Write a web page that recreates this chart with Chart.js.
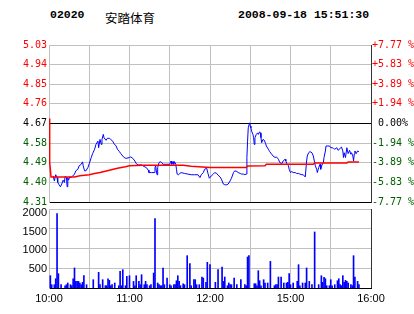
<!DOCTYPE html>
<html>
<head>
<meta charset="utf-8">
<script src="https://cdn.jsdelivr.net/npm/chart.js@4.4.0/dist/chart.umd.min.js"></script>
<style>
  body { margin: 0; background: #fff; width: 414px; height: 314px; overflow: hidden; position: relative; }
  .hd { position: absolute; top: 8px; line-height: 16px; color: #000; font: bold 11.5px "Liberation Mono", monospace; }
  .name { font: 12.5px "Noto Sans CJK SC", sans-serif; }
  canvas { position: absolute; left: 0; }
</style>
</head>
<body>
<div class="hd" style="left:50px">02020</div>
<div class="hd name" style="left:105px">安踏体育</div>
<div class="hd" style="left:238px">2008-09-18 15:51:30</div>
<canvas id="price-chart" width="414" height="210" style="top:0;width:414px;height:210px"></canvas>
<canvas id="vol-chart" width="414" height="114" style="top:200px;width:414px;height:114px"></canvas>
<script>
// minutes since 10:00 (10:00-12:30, 14:30-16:00 = 240 trading minutes)
const timeTicks = [0, 30, 60, 90, 120, 150, 180, 210, 240];
const timeLabels = ['10:00', '', '11:00', '', '12:00', '', '15:00', '', '16:00'];

const prevClose = 4.67;
const priceTicks = [4.31, 4.40, 4.49, 4.58, 4.67, 4.76, 4.85, 4.94, 5.03];
const pctLabels = ['-7.77 %', '-5.83 %', '-3.89 %', '-1.94 %', ' 0.00%', '+1.94 %', '+3.89 %', '+5.83 %', '+7.77 %'];

const volTicks = [500, 1000, 1500, 2000];
const volMax = 2100;

// price line
const priceMin = [3, 4, 5, 6, 6.5, 7.5, 8.5, 9.5, 10.5, 11.5, 12, 13, 13.5, 14, 14.5, 15.5, 16.5, 17.5, 19, 20,
  21.5, 22.5, 24, 25, 25.5, 26.5, 27.5, 29, 30, 31.5, 32.5, 34, 35, 36.5, 37, 38, 39, 39.5, 40.5, 41,
  42.5, 43.5, 45, 46, 47.5, 48.5, 50, 51, 52.5, 53.5, 55, 56, 57.5, 60, 61, 62.5, 64, 65, 66.5, 69,
  70, 71.5, 72.5, 74, 74.5, 76.5, 78.5, 79, 79.5, 80, 80.5, 81, 82, 83, 84, 85, 87.5, 90, 90.5, 91,
  91.5, 92.5, 93, 93.5, 94.5, 95, 95.5, 96.5, 97.5, 98.5, 101, 103.5, 106, 108.5, 111, 112.5, 113.5, 115, 116, 117.5,
  118.5, 119.5, 121, 122.5, 123.5, 125, 126, 127.5, 128.5, 130, 131, 132.5, 133.5, 135, 136, 137.5, 138.5, 140, 141, 142.5,
  143.5, 145, 146, 147, 147.5, 148, 148.5, 149.5, 150, 150.5, 151, 152, 152.5, 153, 153.5, 154.5, 155.5, 156, 157, 157.5,
  158, 158.5, 159.5, 160.5, 161.5, 162, 163.5, 164.5, 166, 167, 168.5, 169.5, 171, 172, 173.5, 174.5, 176, 176.5, 177.5, 178.5,
  179, 180, 181, 182, 183.5, 184.5, 186, 187, 188.5, 189.5, 191, 191.5, 192, 192.5, 193.5, 194.5, 196, 197, 198, 198.5,
  199.5, 200, 201, 202, 202.5, 203.5, 204.5, 205, 206, 206.5, 207.5, 209, 210, 211, 212, 213, 214.5, 215.5, 217, 218,
  219, 219.5, 220, 221, 222, 222.5, 223, 224, 225, 225.5, 226.5, 227, 227.5, 228, 229, 230, 231];
const priceVal = [4.430, 4.407, 4.435, 4.422, 4.400, 4.389, 4.380, 4.392, 4.410, 4.400, 4.428, 4.422, 4.380, 4.422, 4.410, 4.425, 4.422, 4.428, 4.438, 4.453,
  4.460, 4.476, 4.483, 4.494, 4.476, 4.453, 4.453, 4.468, 4.486, 4.514, 4.532, 4.552, 4.574, 4.589, 4.559, 4.597, 4.574, 4.597, 4.620, 4.605,
  4.593, 4.602, 4.602, 4.597, 4.589, 4.577, 4.567, 4.552, 4.541, 4.532, 4.521, 4.514, 4.510, 4.514, 4.517, 4.510, 4.498, 4.486, 4.480, 4.480,
  4.476, 4.471, 4.468, 4.456, 4.445, 4.445, 4.445, 4.468, 4.476, 4.453, 4.435, 4.468, 4.491, 4.495, 4.491, 4.483, 4.483, 4.483, 4.491, 4.498,
  4.483, 4.495, 4.483, 4.495, 4.483, 4.460, 4.438, 4.435, 4.441, 4.445, 4.441, 4.438, 4.435, 4.435, 4.435, 4.422, 4.435, 4.445, 4.460, 4.465,
  4.441, 4.419, 4.430, 4.438, 4.445, 4.441, 4.433, 4.425, 4.415, 4.392, 4.389, 4.389, 4.392, 4.407, 4.419, 4.445, 4.453, 4.450, 4.445, 4.441,
  4.438, 4.438, 4.435, 4.438, 4.514, 4.589, 4.650, 4.673, 4.658, 4.650, 4.635, 4.620, 4.605, 4.574, 4.605, 4.620, 4.627, 4.620, 4.632, 4.627,
  4.605, 4.582, 4.597, 4.593, 4.577, 4.567, 4.552, 4.541, 4.529, 4.521, 4.514, 4.517, 4.506, 4.491, 4.486, 4.498, 4.506, 4.498, 4.483, 4.476,
  4.460, 4.445, 4.450, 4.445, 4.445, 4.441, 4.441, 4.438, 4.435, 4.435, 4.425, 4.425, 4.498, 4.521, 4.536, 4.541, 4.536, 4.521, 4.491, 4.476,
  4.460, 4.445, 4.468, 4.483, 4.460, 4.480, 4.491, 4.514, 4.544, 4.567, 4.567, 4.567, 4.559, 4.559, 4.556, 4.552, 4.559, 4.547, 4.556, 4.562,
  4.544, 4.514, 4.536, 4.514, 4.559, 4.544, 4.532, 4.547, 4.529, 4.536, 4.521, 4.498, 4.529, 4.544, 4.532, 4.544, 4.541];

// average price line
const avgMin = [0, 0.5, 1.5, 19, 23, 30, 34, 38, 45, 51, 57, 60, 70, 100, 106, 120, 147, 148, 161, 162, 197, 198, 222, 223, 231];
const avgVal = [4.693, 4.492, 4.425, 4.425, 4.430, 4.435, 4.441, 4.445, 4.456, 4.465, 4.472, 4.476, 4.479, 4.479, 4.474, 4.468, 4.468, 4.475, 4.476, 4.483, 4.483, 4.489, 4.489, 4.493, 4.493];

// volume bars
const volMin = [1, 2, 4, 5, 6, 7, 9, 12, 13, 14, 16, 17, 18, 19, 20, 21, 22, 23, 24, 25,
  26, 28, 33, 37, 38, 40, 42, 43, 44, 45, 46, 47, 49, 52, 53, 54, 55, 57, 58, 60,
  63, 64, 65, 67, 68, 69, 71, 72, 73, 75, 76, 78, 79, 81, 82, 83, 84, 85, 86, 88,
  90, 91, 93, 94, 95, 96, 97, 98, 100, 101, 103, 105, 106, 108, 109, 110, 112, 114, 115, 117,
  118, 120, 124, 126, 129, 130, 131, 133, 134, 135, 136, 138, 140, 143, 146, 147, 148, 149, 153, 154,
  155, 156, 157, 158, 160, 161, 163, 165, 168, 169, 170, 171, 173, 175, 177, 178, 179, 180, 182, 185,
  186, 187, 189, 191, 192, 194, 196, 198, 201, 203, 204, 205, 206, 207, 209, 210, 211, 213, 215, 216,
  217, 218, 219, 220, 221, 222, 223, 225, 226, 227, 228, 230, 231];
const volVal = [327, 88, 88, 247, 1976, 380, 88, 61, 88, 133, 88, 61, 247, 532, 176, 176, 176, 133, 88, 150,
  327, 88, 221, 416, 88, 221, 61, 61, 247, 203, 61, 88, 133, 61, 442, 61, 487, 61, 309, 327,
  176, 61, 327, 176, 88, 354, 88, 176, 88, 61, 88, 398, 1843, 133, 88, 61, 61, 532, 88, 265,
  88, 61, 88, 88, 194, 327, 176, 61, 114, 88, 859, 646, 61, 221, 221, 88, 88, 292, 265, 150,
  682, 620, 150, 487, 558, 176, 292, 61, 133, 88, 88, 265, 88, 221, 88, 61, 824, 859, 114, 114,
  61, 460, 194, 61, 221, 133, 133, 708, 61, 88, 88, 292, 292, 133, 133, 150, 380, 88, 133, 176,
  620, 61, 133, 133, 532, 176, 88, 1489, 88, 327, 150, 283, 247, 61, 61, 221, 61, 88, 194, 247,
  88, 61, 327, 150, 203, 176, 133, 88, 61, 859, 292, 176, 88];

const GRID = '#c0c0c0';
const RED = '#ff0000';
const GREEN = '#006000';
const monoFont = { family: 'DejaVu Sans Mono', size: 10 };
const sansFont = { family: 'Liberation Sans', size: 11 };

function labelColor(ctx) {
  const i = ctx.index;
  if (i > 4) return RED;
  if (i === 4) return '#000';
  return GREEN;
}

const xScale = (showLabels) => ({
  type: 'linear',
  min: 0,
  max: 240,
  offset: false,
  afterBuildTicks: (axis) => { axis.ticks = timeTicks.map(v => ({ value: v })); },
  ticks: {
    display: showLabels,
    autoSkip: false,
    maxRotation: 0,
    padding: 4,
    color: '#000',
    font: sansFont,
    callback: (v, i) => timeLabels[i]
  },
  grid: { color: (ctx) => ctx.index === 8 ? '#333' : GRID, drawTicks: false, offset: false },
  border: { color: '#000' },
  afterFit: (s) => { s.height = showLabels ? 26 : 0; }
});

const priceCfg = {
  type: 'line',
  data: {
    datasets: [{
      label: '均价',
      data: avgMin.map((m, i) => ({ x: m, y: avgVal[i] })),
      borderColor: RED,
      borderWidth: 1.5,
      pointRadius: 0,
      tension: 0
    }, {
      label: '价格',
      data: priceMin.map((m, i) => ({ x: m, y: priceVal[i] })),
      borderColor: '#0000ff',
      borderWidth: 1,
      pointRadius: 0,
      tension: 0
    }]
  },
  options: {
    responsive: false,
    animation: false,
    devicePixelRatio: 1,
    events: [],
    layout: { padding: { top: 45, bottom: 7, left: 0, right: 0 } },
    plugins: { legend: { display: false }, tooltip: { enabled: false } },
    scales: {
      x: xScale(false),
      y: {
        position: 'left',
        min: 4.31,
        max: 5.03,
        afterBuildTicks: (axis) => { axis.ticks = priceTicks.map(v => ({ value: v })); },
        ticks: { autoSkip: false, padding: 2, font: monoFont, color: labelColor, callback: (v) => v.toFixed(2) },
        grid: { color: (ctx) => (ctx.index === 0 || ctx.index === 4) ? '#000' : GRID, drawTicks: false },
        border: { color: GRID },
        afterFit: (s) => { s.width = 49; }
      },
      yPct: {
        position: 'right',
        min: 4.31,
        max: 5.03,
        afterBuildTicks: (axis) => { axis.ticks = priceTicks.map(v => ({ value: v })); },
        ticks: { autoSkip: false, padding: 1, font: monoFont, color: labelColor, callback: (v, i) => pctLabels[i] },
        grid: { display: false, drawTicks: false },
        border: { color: '#333' },
        afterFit: (s) => { s.width = 43; }
      }
    }
  }
};

const volCfg = {
  type: 'bar',
  data: {
    datasets: [{
      label: '成交量',
      data: volMin.map((m, i) => ({ x: m, y: volVal[i] })),
      backgroundColor: '#0000ff',
      barThickness: 1,
      yAxisID: 'y'
    }]
  },
  options: {
    responsive: false,
    animation: false,
    devicePixelRatio: 1,
    events: [],
    layout: { padding: { top: 9, bottom: 0, left: 0, right: 43 } },
    plugins: { legend: { display: false }, tooltip: { enabled: false } },
    scales: {
      x: xScale(true),
      y: {
        position: 'left',
        min: 0,
        max: volMax,
        afterBuildTicks: (axis) => { axis.ticks = volTicks.map(v => ({ value: v })); },
        ticks: { autoSkip: false, padding: 2, font: sansFont, color: '#000', callback: (v) => String(v) },
        grid: { display: false, drawTicks: false },
        border: { color: GRID },
        afterFit: (s) => { s.width = 49; }
      },
      yGrid: {
        position: 'left',
        min: 0,
        max: 4,
        ticks: { display: false, stepSize: 1 },
        grid: { color: (ctx) => ctx.index === 0 ? '#000' : GRID, drawTicks: false },
        border: { display: false },
        afterFit: (s) => { s.width = 0; }
      }
    }
  }
};

new Chart(document.getElementById('price-chart').getContext('2d'), priceCfg);
new Chart(document.getElementById('vol-chart').getContext('2d'), volCfg);
</script>
</body>
</html>
